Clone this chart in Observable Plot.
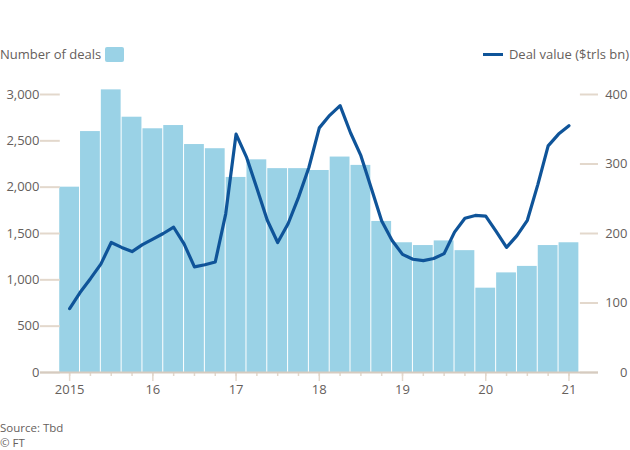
<!DOCTYPE html>
<html>
<head>
<meta charset="utf-8">
<script src="https://cdn.jsdelivr.net/npm/d3@7"></script>
<script src="https://cdn.jsdelivr.net/npm/@observablehq/plot@0.6"></script>
<style>
  body { margin: 0; background: #fff; font-family: "Open Sans", sans-serif; color: #66605c; }
  #wrap { position: relative; width: 630px; height: 450px; overflow: hidden; }
  #legL { position: absolute; left: 0; top: 45px; font-size: 13px; line-height: 18px; display: flex; align-items: center; }
  #legL .sw { display: inline-block; width: 19px; height: 15px; background: #9ad2e6; border-radius: 2px; margin-left: 4px; }
  #legR { position: absolute; right: 1px; top: 45px; font-size: 13px; line-height: 18px; display: flex; align-items: center; }
  #legR .sw { display: inline-block; width: 20px; height: 3px; background: #0f5499; margin-right: 6px; }
  #chart { position: absolute; left: 0; top: 70px; }
  .cap { position: absolute; left: 0; font-size: 11.5px; line-height: 13px; }
</style>
</head>
<body>
<div id="wrap">
  <div id="legL"><span>Number of deals</span><span class="sw"></span></div>
  <div id="legR"><span class="sw"></span><span>Deal value ($trls bn)</span></div>
  <div id="chart"></div>
  <div class="cap" style="top:421px">Source: Tbd</div>
  <div class="cap" style="top:436px">© FT</div>
</div>
<script>
// Quarterly number of deals, 2015 Q1 .. 2021 Q1
const dealCounts = [2000, 2600, 3050, 2755, 2630, 2665, 2460, 2415, 2105, 2295, 2200, 2200, 2180,
                    2325, 2235, 1630, 1400, 1370, 1420, 1315, 910, 1075, 1145, 1370, 1400];
// Deal value, read every half quarter from 2015 Q1 to 2021 Q1
const dealValue = [92, 115, 135, 156, 187, 180, 174, 184, 192, 200, 209, 185, 152, 155, 159, 228,
                   343, 310, 265, 219, 187, 214, 252, 295, 352, 370, 384, 345, 312, 265, 218, 190,
                   170, 163, 161, 164, 171, 202, 222, 226, 225, 203, 180, 197, 219, 270, 326, 343, 355];
const yearLabels = ["2015", "16", "17", "18", "19", "20", "21"];
const countTicks = [0, 500, 1000, 1500, 2000, 2500, 3000];
const valueTicks = [0, 100, 200, 300, 400];

const k = countTicks[countTicks.length - 1] / valueTicks[valueTicks.length - 1];
const bars = dealCounts.map((n, q) => ({q, n}));
const line = dealValue.map((v, i) => ({q: i / 2, v}));
const yearPos = yearLabels.map((_, i) => i * 4);
const quarterPos = dealCounts.map((_, q) => q);
const xMin = -1.4, xMax = 25.42;
const tickColor = "#e3d8cc";

const chart = Plot.plot({
  width: 630,
  height: 340,
  marginTop: 24,
  marginBottom: 38,
  marginLeft: 40,
  marginRight: 32,
  style: { fontSize: "13px", fontFamily: "'Open Sans', sans-serif", color: "#66605c", background: "transparent", overflow: "visible" },
  x: { type: "linear", domain: [xMin, xMax], axis: null },
  y: { domain: [0, 3000], axis: null },
  marks: [
    Plot.rectY(bars, { x1: d => d.q - 0.5, x2: d => d.q + 0.5, y1: 0, y2: "n", fill: "#9ad2e6", insetLeft: 0.5, insetRight: 0.5 }),
    Plot.ruleY(countTicks, { x1: xMin, x2: -0.45, stroke: tickColor, strokeWidth: 2 }),
    Plot.ruleY(valueTicks, { y: d => d * k, x1: 24.55, x2: xMax, stroke: tickColor, strokeWidth: 2 }),
    Plot.axisX(quarterPos, { tickSize: 4, tickFormat: () => "", label: null, stroke: tickColor, strokeWidth: 1.5 }),
    Plot.axisX(yearPos, { tickSize: 9, tickPadding: 3, tickFormat: d => yearLabels[d / 4], label: null, stroke: tickColor, strokeWidth: 1.5 }),
    Plot.ruleY([0], { stroke: "#d6cbc0", strokeWidth: 2 }),
    Plot.axisY(countTicks, { anchor: "left", tickSize: 0, tickPadding: 1, tickFormat: d3.format(","), label: null }),
    Plot.axisY(valueTicks.map(v => v * k), { anchor: "right", tickSize: 0, tickPadding: 29, textAnchor: "end", tickFormat: d => d3.format(",")(Math.round(d / k)), label: null }),
    Plot.line(line, { x: "q", y: d => d.v * k, stroke: "#0f5499", strokeWidth: 3.2, strokeLinejoin: "round", strokeLinecap: "round" })
  ]
});
document.getElementById("chart").appendChild(chart);
</script>
</body>
</html>
